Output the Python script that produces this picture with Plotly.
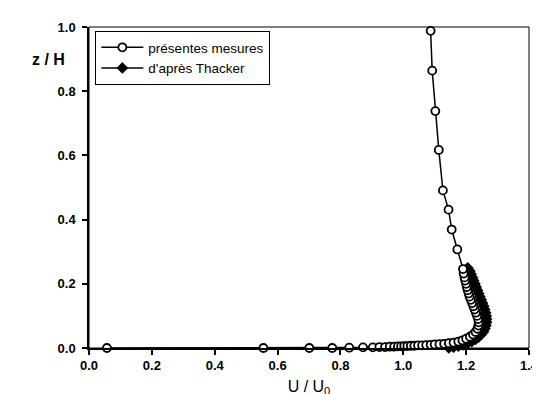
import plotly.graph_objects as go

# Mesures (cercles ouverts) : U/U0, z/H
u_mesures = [0.057, 0.555, 0.701, 0.774, 0.828, 0.872, 0.903, 0.924, 0.942, 0.957,
             0.971, 0.983, 0.993, 1.003, 1.013, 1.024, 1.035, 1.047, 1.060, 1.073,
             1.087, 1.100, 1.115, 1.130, 1.145, 1.160, 1.175, 1.188, 1.200, 1.212,
             1.222, 1.230, 1.236, 1.239, 1.240, 1.238, 1.235, 1.231, 1.227, 1.223,
             1.219, 1.215, 1.211, 1.208, 1.205, 1.202, 1.200, 1.197, 1.195, 1.192,
             1.190, 1.172, 1.154, 1.144, 1.126, 1.113, 1.102, 1.092, 1.087]
z_mesures = [0.000, 0.000, 0.000, 0.000, 0.001, 0.002, 0.002, 0.003, 0.003, 0.004,
             0.004, 0.005, 0.005, 0.006, 0.006, 0.007, 0.007, 0.008, 0.008, 0.009,
             0.010, 0.011, 0.012, 0.013, 0.015, 0.017, 0.020, 0.024, 0.029, 0.035,
             0.042, 0.050, 0.060, 0.070, 0.080, 0.090, 0.100, 0.110, 0.120, 0.130,
             0.140, 0.150, 0.160, 0.170, 0.180, 0.190, 0.200, 0.210, 0.220, 0.232,
             0.246, 0.307, 0.369, 0.431, 0.491, 0.617, 0.738, 0.864, 0.988]

# Profil d'après Thacker (losanges pleins)
u_thacker = [1.145, 1.160, 1.175, 1.190, 1.205, 1.218, 1.230, 1.240, 1.248, 1.255,
             1.260, 1.263, 1.265, 1.265, 1.264, 1.262, 1.259, 1.256, 1.252, 1.248,
             1.244, 1.240, 1.236, 1.232, 1.228, 1.224, 1.220, 1.216, 1.212, 1.205]
z_thacker = [0.000, 0.003, 0.006, 0.010, 0.015, 0.020, 0.027, 0.034, 0.042, 0.050,
             0.060, 0.070, 0.080, 0.090, 0.100, 0.110, 0.120, 0.130, 0.140, 0.150,
             0.160, 0.170, 0.180, 0.190, 0.200, 0.210, 0.220, 0.230, 0.240, 0.250]

x_ticks = [0.0, 0.2, 0.4, 0.6, 0.8, 1.0, 1.2, 1.4]
y_ticks = [0.0, 0.2, 0.4, 0.6, 0.8, 1.0]

police = "Arial, Liberation Sans, sans-serif"

fig = go.Figure()
fig.add_trace(go.Scatter(x=u_thacker, y=z_thacker, mode="lines+markers", name="d'après Thacker",
                         line=dict(color="black", width=1.5),
                         marker=dict(symbol="diamond", size=9, color="black"),
                         cliponaxis=False))
fig.add_trace(go.Scatter(x=u_mesures, y=z_mesures, mode="lines+markers", name="présentes mesures",
                         line=dict(color="black", width=1.5),
                         marker=dict(symbol="circle", size=8, color="white",
                                     line=dict(color="black", width=1.8)),
                         cliponaxis=False))

fig.update_layout(
    width=540, height=394,
    margin=dict(l=81, r=9, t=19, b=51),
    paper_bgcolor="white", plot_bgcolor="white",
    showlegend=True,
    legend=dict(x=0.014, y=0.988, xanchor="left", yanchor="top",
                traceorder="reversed", bordercolor="black", borderwidth=1.2,
                bgcolor="white", itemwidth=42,
                font=dict(family=police, size=13.5, color="black")),
    font=dict(family=police, color="black"),
)
fig.update_xaxes(range=[0, 1.4], tickvals=x_ticks, ticktext=[f"{v:.1f}" for v in x_ticks],
                 ticklabeloverflow="allow",
                 showgrid=False, zeroline=False, showline=True, linecolor="black", linewidth=1.5,
                 ticks="outside", ticklen=5, tickwidth=1.5, tickcolor="black",
                 tickfont=dict(family=police, size=13, weight="bold"),
                 title=dict(text="U / U<sub>0</sub>", standoff=8,
                            font=dict(family=police, size=16)))
fig.update_yaxes(range=[0, 1.0], tickvals=y_ticks, ticktext=[f"{v:.1f}" for v in y_ticks],
                 ticklabeloverflow="allow", ticklabelstandoff=4,
                 showgrid=False, zeroline=False, showline=True, linecolor="black", linewidth=1.5,
                 ticks="outside", ticklen=5, tickwidth=1.5, tickcolor="black",
                 tickfont=dict(family=police, size=13, weight="bold"))

# cadre fin en haut et a droite
fig.add_shape(type="rect", xref="paper", yref="paper", x0=0, y0=0, x1=1, y1=1,
              line=dict(color="black", width=1), layer="below")

fig.add_annotation(text="z / H", xref="paper", yref="paper", x=-0.135, y=0.93,
                   showarrow=False, font=dict(family=police, size=16, weight="bold"))

fig.write_html("out.html")
